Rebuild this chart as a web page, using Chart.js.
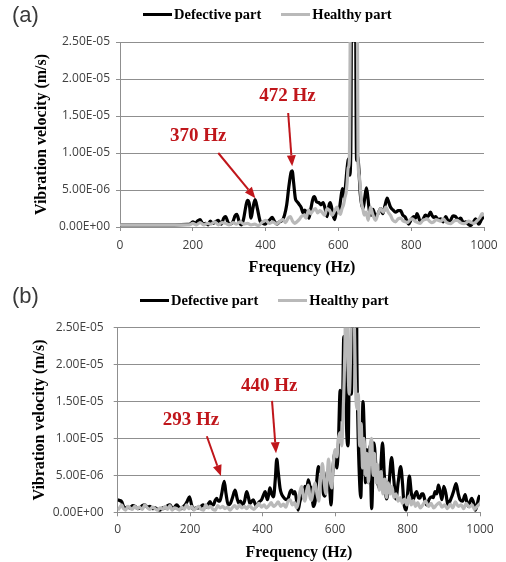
<!DOCTYPE html>
<html>
<head>
<meta charset="utf-8">
<script src="https://cdn.jsdelivr.net/npm/chart.js@4.4.1/dist/chart.umd.min.js"></script>
<style>
  html, body { margin: 0; padding: 0; background: #fff; }
  body { width: 506px; height: 562px; position: relative; overflow: hidden; }
  .panel { position: absolute; left: 0; width: 506px; height: 281px; }
  .panel canvas { position: absolute; left: 0; top: 0; }
  .tag { position: absolute; left: 12px; top: 4px; font: 22px/1 "Liberation Sans", Arial, sans-serif; color: #3a3a3a; }
  .legend { position: absolute; display: flex; align-items: center; height: 18px;
            font: bold 14.5px "Liberation Serif", "Times New Roman", serif; color: #000; white-space: nowrap; }
  .legend .item { display: flex; align-items: center; margin-right: 20px; }
  .legend i { display: inline-block; width: 29px; height: 3px; margin-right: 2px; }
</style>
</head>
<body>
<div class="panel" style="top:0">
  <canvas id="chartA" width="506" height="281"></canvas>
  <div class="tag">(a)</div>
  <div class="legend" id="legendA" style="left:143px;top:5px"></div>
</div>
<div class="panel" style="top:281px">
  <canvas id="chartB" width="506" height="281"></canvas>
  <div class="tag">(b)</div>
  <div class="legend" id="legendB" style="left:140px;top:10px"></div>
</div>
<script>
// velocities are in um/s, the axis labels show them in m/s

// ---- (a) ----
const freqDefA = [
  0, 50, 100, 150, 185, 193, 200, 207, 213, 220,
  228, 235, 242, 248, 255, 262, 270, 278, 285, 290,
  297, 303, 310, 316, 321, 328, 334, 340, 345, 350,
  355, 360, 365, 371, 377, 385, 392, 399, 405, 412,
  418, 424, 431, 438, 446, 452, 458, 464, 470, 473,
  477, 482, 487, 493, 498, 503, 508, 514, 519, 524,
  530, 534, 540, 546, 552, 558, 563, 569, 574, 578,
  585, 590, 596, 601, 606, 611, 616, 620, 624, 628,
  631, 634, 641, 650, 653, 656, 660, 664, 668, 672,
  677, 681, 685, 690, 695, 702, 709, 716, 722, 728,
  734, 738, 743, 750, 757, 764, 771, 777, 784, 789,
  793, 800, 807, 812, 816, 820, 825, 832, 839, 846,
  853, 858, 862, 867, 874, 881, 888, 895, 902, 908,
  915, 922, 929, 936, 943, 950, 956, 963, 970, 977,
  981, 986, 993, 1000
];
const velDefA = [
  0.3, 0.3, 0.3, 0.3, 0.35, 0.4, 0.7, 0.5, 0.8, 1.0,
  0.4, 0.5, 0.3, 0.8, 0.5, 0.7, 0.9, 0.4, 1.2, 1.4,
  0.6, 0.4, 0.7, 1.5, 1.7, 0.6, 0.3, 1.2, 2.6, 3.6,
  3.2, 1.2, 2.5, 3.7, 2.6, 0.8, 0.5, 0.4, 0.7, 1.0,
  1.3, 0.8, 0.4, 0.7, 0.9, 1.6, 3.0, 5.5, 7.4, 7.6,
  6.0, 3.8, 3.4, 3.0, 2.6, 1.9, 2.3, 1.8, 1.2, 2.4,
  3.8, 4.1, 3.4, 3.3, 3.0, 3.3, 2.6, 1.4, 2.9, 3.3,
  1.6, 1.0, 2.5, 2.0, 3.6, 5.2, 4.0, 5.8, 8.0, 9.2,
  7.0, 10, 120, 9, 9.5, 8.0, 4.5, 3.0, 2.5, 3.8,
  5.3, 4.0, 2.2, 1.6, 2.4, 1.4, 1.8, 2.5, 1.8, 2.9,
  3.9, 3.4, 2.7, 2.3, 2.0, 2.2, 2.2, 1.6, 1.3, 0.7,
  0.4, 1.0, 1.4, 1.2, 1.8, 1.4, 0.7, 1.0, 1.6, 1.4,
  2.0, 1.5, 1.3, 1.4, 1.0, 1.1, 0.7, 1.4, 0.8, 0.9,
  1.5, 1.4, 1.0, 1.2, 0.6, 0.7, 0.4, 0.2, 0.6, 1.1,
  0.7, 0.4, 1.0, 1.5
];
const freqHealA = [
  0, 50, 100, 150, 190, 200, 210, 220, 230, 240,
  250, 260, 270, 280, 290, 300, 310, 320, 330, 340,
  350, 360, 370, 380, 390, 400, 410, 420, 430, 440,
  448, 455, 462, 468, 474, 480, 486, 492, 498, 505,
  511, 518, 524, 530, 537, 543, 549, 555, 562, 569,
  576, 583, 590, 596, 601, 605, 610, 614, 618, 621,
  624, 627, 630, 641, 654, 657, 660, 663, 667, 671,
  676, 682, 688, 695, 702, 709, 716, 723, 730, 737,
  743, 750, 757, 764, 771, 778, 784, 790, 797, 803,
  810, 818, 825, 832, 838, 844, 850, 856, 862, 868,
  875, 882, 888, 895, 902, 908, 915, 922, 927, 935,
  945, 952, 958, 963, 970, 976, 982, 988, 995, 1000
];
const velHealA = [
  0.3, 0.3, 0.3, 0.3, 0.3, 0.5, 0.3, 0.6, 0.3, 0.5,
  0.4, 0.7, 0.3, 0.6, 0.5, 0.3, 0.6, 0.4, 0.7, 0.4,
  0.5, 0.3, 0.4, 0.2, 0.6, 0.9, 0.5, 0.7, 0.4, 0.8,
  1.0, 0.6, 1.2, 1.4, 0.8, 0.5, 0.7, 1.0, 1.4, 1.6,
  1.2, 2.3, 1.8, 2.2, 2.5, 1.9, 2.2, 2.0, 1.6, 2.5,
  2.2, 1.6, 2.2, 2.7, 2.0, 1.7, 2.5, 3.0, 4.0, 4.6,
  6.0, 8.0, 9.0, 130, 9.0, 7.0, 5.5, 3.5, 2.5, 1.6,
  2.0, 0.9, 2.7, 1.6, 0.9, 1.8, 2.5, 2.0, 2.7, 2.0,
  1.6, 0.9, 0.7, 1.1, 1.2, 0.8, 0.7, 0.6, 1.0, 1.1,
  0.8, 0.6, 0.5, 0.9, 1.0, 1.1, 0.8, 0.6, 0.7, 1.0,
  0.9, 0.8, 1.1, 0.7, 0.5, 0.45, 0.7, 0.9, 0.9, 0.6,
  0.45, 0.6, 0.8, 0.7, 0.5, 0.6, 0.9, 1.2, 1.8, 1.5
];

// ---- (b) ----
const freqDefB = [
  0, 5, 11, 16, 20, 27, 34, 41, 48, 55,
  62, 68, 75, 82, 89, 96, 103, 110, 117, 124,
  131, 138, 144, 150, 154, 160, 163, 170, 177, 182,
  186, 192, 198, 204, 209, 216, 223, 230, 236, 241,
  246, 251, 255, 260, 264, 269, 273, 278, 282, 287,
  294, 299, 305, 311, 317, 324, 330, 335, 339, 344,
  350, 356, 361, 365, 370, 374, 379, 383, 390, 397,
  402, 407, 413, 417, 420, 425, 430, 435, 439, 443,
  448, 452, 457, 462, 466, 471, 476, 480, 485, 489,
  494, 498, 503, 508, 512, 517, 522, 526, 531, 535,
  540, 545, 549, 554, 559, 563, 568, 572, 577, 582,
  586, 589, 593, 597, 600, 605, 609, 614, 618, 621,
  624, 628, 632, 636, 640, 645, 650, 655, 660, 663,
  667, 671, 674, 677, 681, 684, 688, 692, 696, 701,
  707, 714, 722, 726, 731, 736, 742, 749, 756, 762,
  768, 774, 781, 786, 790, 796, 800, 805, 810, 814,
  819, 825, 830, 834, 839, 843, 848, 853, 860, 866,
  871, 876, 881, 885, 890, 895, 900, 906, 912, 917,
  922, 928, 934, 940, 945, 952, 959, 964, 968, 973,
  977, 983, 987, 992, 996, 1000
];
const velDefB = [
  1.7, 1.6, 1.45, 0.8, 0.55, 0.7, 0.6, 0.9, 0.8, 0.5,
  0.6, 0.9, 1.0, 0.7, 0.8, 0.5, 0.6, 0.4, 0.3, 0.6,
  0.6, 0.9, 1.0, 0.6, 0.5, 0.9, 1.0, 0.6, 0.5, 0.8,
  1.0, 1.5, 2.1, 1.0, 0.4, 0.6, 0.6, 0.8, 1.0, 0.7,
  0.8, 1.2, 1.45, 1.0, 1.0, 1.6, 1.9, 1.5, 1.5, 2.5,
  4.2, 2.5, 1.0, 1.2, 2.0, 3.0, 1.8, 1.2, 1.5, 1.0,
  1.5, 2.8, 2.0, 1.2, 1.5, 1.7, 1.2, 0.8, 1.4, 1.7,
  2.3, 2.8, 1.7, 2.5, 3.3, 2.5, 2.1, 4.5, 7.2, 5.5,
  3.3, 2.5, 2.1, 1.8, 1.7, 2.0, 2.8, 3.0, 2.5, 2.8,
  1.5, 0.3, 1.5, 2.1, 2.5, 3.5, 3.2, 4.4, 3.5, 3.2,
  0.8, 1.5, 4.0, 6.2, 5.5, 5.8, 2.5, 2.2, 5.0, 5.8,
  2.5, 1.0, 5.0, 7.5, 8.0, 6.0, 9.0, 16.5, 12.5, 15,
  23.8, 20, 11, 9, 21, 16, 40, 70, 22, 12,
  5, 2, 8, 15, 10, 4, 8.5, 4, 9, 0.5,
  9.4, 5.5, 3.3, 6, 9.4, 5, 1.8, 4, 7.4, 4.5,
  1.8, 4, 6.2, 4, 1.2, 0.3, 2.5, 4.9, 2.8, 1.5,
  2.2, 2.8, 2.0, 1.9, 2.5, 2.5, 1.6, 1.0, 1.8, 2.1,
  2.0, 2.8, 2.5, 3.7, 2.8, 1.7, 3.5, 2.5, 0.9, 1.5,
  2.1, 3.0, 3.9, 2.5, 1.7, 1.5, 2.4, 1.3, 0.8, 1.5,
  1.9, 1.2, 0.3, 1.0, 1.9, 2.3
];
const freqHealB = [
  0, 5, 11, 16, 22, 28, 34, 40, 47, 54,
  60, 68, 75, 82, 89, 96, 103, 110, 117, 124,
  131, 138, 144, 150, 157, 163, 170, 177, 184, 190,
  197, 204, 210, 217, 224, 230, 237, 243, 250, 256,
  263, 270, 276, 283, 290, 296, 303, 310, 316, 323,
  330, 336, 343, 350, 356, 363, 370, 376, 383, 390,
  397, 404, 410, 417, 424, 430, 436, 443, 450, 457,
  464, 470, 476, 482, 488, 494, 498, 503, 508, 513,
  517, 522, 526, 530, 535, 540, 545, 550, 555, 560,
  565, 570, 575, 579, 582, 586, 591, 595, 600, 605,
  609, 614, 618, 622, 627, 631, 635, 639, 643, 648,
  652, 656, 660, 664, 668, 672, 676, 680, 684, 688,
  692, 697, 701, 705, 709, 713, 717, 722, 727, 732,
  737, 742, 747, 752, 757, 762, 768, 774, 780, 786,
  792, 798, 804, 810, 816, 822, 828, 835, 842, 850,
  858, 865, 872, 880, 888, 895, 902, 910, 918, 925,
  932, 940, 948, 955, 962, 970, 978, 985, 992, 1000
];
const velHealB = [
  0.3, 0.6, 1.0, 0.5, 0.3, 0.8, 0.6, 0.4, 0.8, 0.5,
  0.7, 0.4, 1.0, 0.6, 0.4, 0.7, 0.5, 0.3, 0.6, 0.4,
  0.8, 0.4, 0.9, 0.3, 0.6, 0.5, 0.3, 0.7, 0.4, 1.0,
  0.5, 0.8, 0.3, 0.6, 0.8, 0.4, 0.3, 1.0, 0.6, 0.8,
  0.4, 0.3, 0.9, 0.6, 0.8, 0.5, 0.7, 0.3, 0.6, 0.9,
  0.5, 1.0, 0.6, 0.8, 0.5, 0.9, 0.6, 0.4, 0.8, 1.2,
  0.7, 1.0, 0.6, 0.9, 1.3, 0.8, 1.0, 1.4, 0.8, 1.1,
  0.7, 1.5, 1.7, 1.0, 1.3, 0.6, 1.2, 2.8, 3.5, 2.0,
  1.5, 3.0, 3.7, 2.2, 1.6, 3.2, 4.0, 2.5, 1.5, 4.5,
  6.6, 4.0, 2.5, 5.5, 7.2, 4.5, 3.3, 6.5, 8.5, 7.5,
  9.9, 10.8, 9.0, 13, 22, 35, 22, 16, 22, 40,
  30, 18, 14, 16, 9, 12, 6, 10, 5, 8,
  4, 9, 10, 5, 8, 4, 6.5, 3, 5.5, 2.5,
  4.5, 2, 4, 2.5, 3.5, 2, 2.5, 1.5, 2.0, 1.2,
  1.8, 1.0, 2.2, 1.0, 1.6, 0.8, 1.3, 0.6, 1.0, 1.5,
  0.8, 1.2, 0.6, 1.0, 1.3, 0.7, 1.0, 0.5, 1.1, 0.6,
  1.4, 0.8, 1.0, 0.5, 1.2, 0.7, 1.0, 0.4, 0.8, 1.2
];

const seriesLabels = ["Defective part", "Healthy part"];
const seriesColors = ["#000000", "#b9b9b9"];
const xTicks = [0, 200, 400, 600, 800, 1000];
const yTicks = [0, 5, 10, 15, 20, 25]; // um/s

// peak call-outs: label position and arrow, in Hz / um/s
const notesA = [
  { text: "472 Hz", tx: 460, ty: 17.7, x0: 462, y0: 15.4, x1: 473, y1: 8.2 },
  { text: "370 Hz", tx: 215, ty: 12.3, x0: 270, y0: 10.0, x1: 372, y1: 3.9 }
];
const notesB = [
  { text: "440 Hz", tx: 418, ty: 17.1, x0: 426, y0: 15.1, x1: 437, y1: 8.0 },
  { text: "293 Hz", tx: 202, ty: 12.5, x0: 246, y0: 10.3, x1: 285, y1: 4.9 }
];

const gridGray = "#8f8f8f";
const tickFont = { family: "'Open Sans', 'Liberation Sans', sans-serif", size: 12 };
const titleFont = { family: "'Liberation Serif', 'Times New Roman', serif", size: 16, weight: "bold" };

// 2.5e-5 -> "2.50E-05"
function sci(v) {
  const parts = (v * 1e-6).toExponential(2).split("e");
  const exp = parseInt(parts[1], 10);
  return parts[0] + "E" + (exp < 0 ? "-" : "+") + String(Math.abs(exp)).padStart(2, "0");
}

function toPoints(freq, vel) {
  return freq.map((f, i) => ({ x: f, y: vel[i] }));
}

function arrowNotes(items) {
  return {
    id: "arrowNotes",
    afterDatasetsDraw(chart) {
      const { ctx, scales: { x, y } } = chart;
      ctx.save();
      ctx.strokeStyle = "#c0161b";
      ctx.fillStyle = "#c0161b";
      ctx.lineWidth = 2;
      ctx.font = "bold 19px 'Liberation Serif', 'Times New Roman', serif";
      ctx.textAlign = "center";
      ctx.textBaseline = "middle";
      items.forEach((n) => {
        ctx.fillText(n.text, x.getPixelForValue(n.tx), y.getPixelForValue(n.ty));
        const x0 = x.getPixelForValue(n.x0), y0 = y.getPixelForValue(n.y0);
        const x1 = x.getPixelForValue(n.x1), y1 = y.getPixelForValue(n.y1);
        const ang = Math.atan2(y1 - y0, x1 - x0);
        const bx = x1 - 11 * Math.cos(ang), by = y1 - 11 * Math.sin(ang);
        ctx.beginPath();
        ctx.moveTo(x0, y0);
        ctx.lineTo(bx, by);
        ctx.stroke();
        ctx.beginPath();
        ctx.moveTo(x1, y1);
        ctx.lineTo(bx + 4.5 * Math.sin(ang), by - 4.5 * Math.cos(ang));
        ctx.lineTo(bx - 4.5 * Math.sin(ang), by + 4.5 * Math.cos(ang));
        ctx.closePath();
        ctx.fill();
      });
      ctx.restore();
    }
  };
}

function htmlLegend(chart, el) {
  chart.data.datasets.forEach((ds) => {
    const item = document.createElement("span");
    item.className = "item";
    const sw = document.createElement("i");
    sw.style.background = ds.borderColor;
    item.appendChild(sw);
    item.appendChild(document.createTextNode(ds.label));
    el.appendChild(item);
  });
}

function makeChart(canvasId, legendId, def, heal, notes, box) {
  const ctx = document.getElementById(canvasId).getContext("2d");
  const chart = new Chart(ctx, {
    type: "line",
    data: {
      datasets: [
        {
          label: seriesLabels[0],
          data: def,
          borderColor: seriesColors[0],
          backgroundColor: seriesColors[0],
          borderWidth: 3.2,
          pointRadius: 0,
          cubicInterpolationMode: "monotone",
          order: 1
        },
        {
          label: seriesLabels[1],
          data: heal,
          borderColor: seriesColors[1],
          backgroundColor: seriesColors[1],
          borderWidth: 3.2,
          pointRadius: 0,
          cubicInterpolationMode: "monotone",
          order: 0
        }
      ]
    },
    options: {
      responsive: false,
      animation: false,
      devicePixelRatio: 1,
      layout: { padding: { top: box.top, right: box.right, left: 0, bottom: 0 } },
      plugins: { legend: { display: false }, tooltip: { enabled: false } },
      scales: {
        x: {
          type: "linear",
          min: 0,
          max: 1000,
          afterBuildTicks: (s) => { s.ticks = xTicks.map((v) => ({ value: v })); },
          afterFit: (s) => { s.height = box.axisH; },
          grid: { drawOnChartArea: false, tickLength: 4, color: gridGray },
          border: { color: gridGray },
          ticks: { font: tickFont, color: "#404040", padding: box.xTickPad, maxRotation: 0, autoSkip: false,
                   callback: (v) => String(v) },
          title: { display: true, text: "Frequency (Hz)", font: titleFont, color: "#000", padding: { top: 0, bottom: box.xTitlePad } }
        },
        y: {
          min: 0,
          max: 25,
          afterBuildTicks: (s) => { s.ticks = yTicks.map((v) => ({ value: v })); },
          afterFit: (s) => { s.width = box.axisW; },
          grid: { tickLength: 4, color: gridGray },
          border: { color: gridGray },
          ticks: { font: tickFont, color: "#404040", padding: box.yTickPad, callback: (v) => sci(v) },
          title: { display: true, text: "Vibration velocity (m/s)", font: titleFont, color: "#000", padding: { top: box.yTitlePad, bottom: 0 } }
        }
      }
    },
    plugins: [arrowNotes(notes)]
  });
  htmlLegend(chart, document.getElementById(legendId));
  return chart;
}

makeChart("chartA", "legendA", toPoints(freqDefA, velDefA), toPoints(freqHealA, velHealA), notesA,
  { top: 42, right: 22, axisW: 120, axisH: 54, yTitlePad: 32, yTickPad: 6, xTickPad: 7, xTitlePad: 4 });
makeChart("chartB", "legendB", toPoints(freqDefB, velDefB), toPoints(freqHealB, velHealB), notesB,
  { top: 46.7, right: 26, axisW: 117.7, axisH: 49.7, yTitlePad: 30, yTickPad: 10, xTickPad: 6.5, xTitlePad: 0 });
</script>
</body>
</html>
